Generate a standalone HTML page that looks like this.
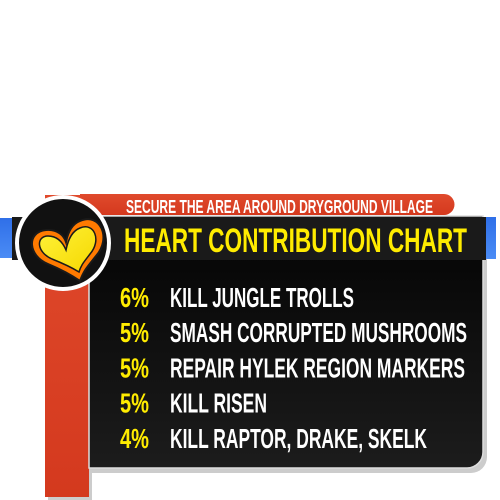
<!DOCTYPE html>
<html><head><meta charset="utf-8"><style>
html,body{margin:0;padding:0;background:#fff;width:500px;height:500px;overflow:hidden}
svg{display:block}
text{font-family:"Liberation Sans",sans-serif;font-weight:bold}
</style></head><body>
<svg width="500" height="500" viewBox="0 0 500 500">
<defs>
<linearGradient id="red" x1="0" y1="0" x2="0" y2="1"><stop offset="0" stop-color="#e04a2c"/><stop offset="1" stop-color="#d4391e"/></linearGradient>
<linearGradient id="blk" x1="0" y1="0" x2="0" y2="1"><stop offset="0" stop-color="#030303"/><stop offset="1" stop-color="#1c1c1c"/></linearGradient>
<linearGradient id="blue" x1="0" y1="0" x2="0" y2="1"><stop offset="0" stop-color="#2f6fe8"/><stop offset="1" stop-color="#4b8cf5"/></linearGradient>
<linearGradient id="heart" x1="0" y1="0" x2="1" y2="1"><stop offset="0" stop-color="#fff23a"/><stop offset="1" stop-color="#f5d800"/></linearGradient>
</defs>
<rect x="48" y="198" width="44" height="302" fill="#ccc"/>
<rect x="45" y="195" width="44" height="302" fill="url(#red)"/>
<path d="M80 194 H444 a10 10 0 0 1 0 21 H80 Z" fill="url(#red)"/>
<text x="126" y="213" font-size="18" fill="#fff" textLength="307" lengthAdjust="spacingAndGlyphs">SECURE THE AREA AROUND DRYGROUND VILLAGE</text>
<path d="M89 216 H485 V454 a16 16 0 0 1 -16 16 H89 Z" fill="#ccc" transform="translate(2,3)"/>
<path d="M89 216 H483 V452 a16 16 0 0 1 -16 16 H89 Z" fill="url(#blk)" stroke="#ddd" stroke-width="1.5"/>
<rect x="0" y="218" width="13" height="40" fill="url(#blue)"/>
<rect x="486" y="217" width="10" height="42" fill="url(#blue)"/>
<rect x="12" y="217" width="474" height="43" fill="#1a1a1a"/>
<text x="124" y="252" font-size="34" fill="#ffec00" textLength="343" lengthAdjust="spacingAndGlyphs">HEART CONTRIBUTION CHART</text>
<circle cx="63" cy="243" r="46" fill="#111" stroke="#fff" stroke-width="4"/>
<path d="M80 221 C100 212 112 238 96 256 C88 266 84 270 80 281 C70 274 60 269 48 264 C28 256 26 232 46 230 C58 229 64 236 66 242 C68 232 72 224 80 221 Z" fill="#ff7a00" stroke="#1a1a1a" stroke-width="2"/>
<path d="M80 228 C94 222 102 240 90 254 C84 262 81 265 79 272 C71 267 62 263 52 259 C36 252 36 236 48 236 C58 236 63 243 66 250 C68 240 72 231 80 228 Z" fill="url(#heart)" stroke="#1a1a1a" stroke-width="1.5"/>
<g id="rows"></g>
</svg>
<script>
const percents = ["6%","5%","5%","5%","4%"];
const tasks = ["KILL JUNGLE TROLLS","SMASH CORRUPTED MUSHROOMS","REPAIR HYLEK REGION MARKERS","KILL RISEN","KILL RAPTOR, DRAKE, SKELK"];
const widths = [184,297,295,97,257];
const g = document.getElementById('rows');
const NS = "http://www.w3.org/2000/svg";
for (let i = 0; i < tasks.length; i++) {
  const y = 307 + i * 35.2;
  const p = document.createElementNS(NS, 'text');
  p.setAttribute('x', 120); p.setAttribute('y', y);
  p.setAttribute('font-size', 28); p.setAttribute('fill', '#ffec00');
  p.setAttribute('textLength', 29); p.setAttribute('lengthAdjust', 'spacingAndGlyphs');
  p.textContent = percents[i];
  
  
  g.appendChild(p);
  const t = document.createElementNS(NS, 'text');
  t.setAttribute('x', 170); t.setAttribute('y', y);
  t.setAttribute('font-size', 28); t.setAttribute('fill', '#fff');
  t.setAttribute('textLength', widths[i]); t.setAttribute('lengthAdjust', 'spacingAndGlyphs');
  t.textContent = tasks[i];
  
  
  g.appendChild(t);
}
</script>
</body></html>
